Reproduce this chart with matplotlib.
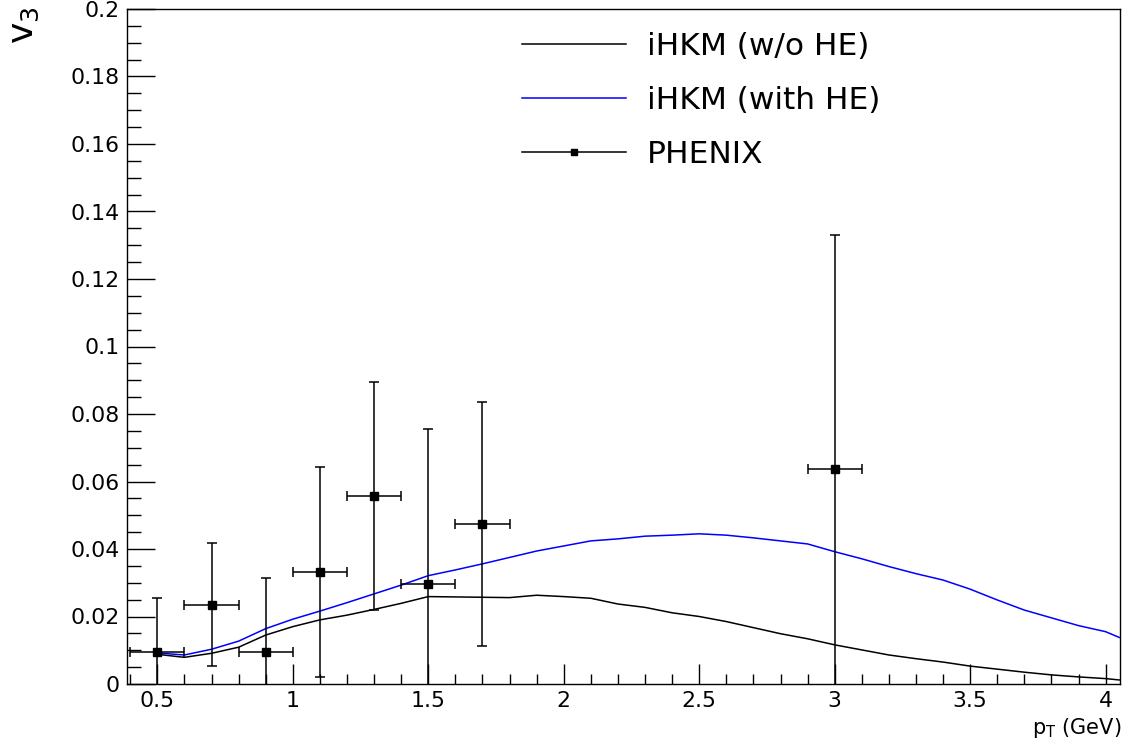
import matplotlib
matplotlib.use("Agg")
import matplotlib.pyplot as plt
from matplotlib.lines import Line2D
from matplotlib.ticker import MultipleLocator, FormatStrFormatter

plt.rcParams['font.family'] = ['DejaVu Sans']
plt.rcParams['mathtext.fontset'] = 'dejavusans'

# ---- data ----
pt_model = [0.5, 0.6, 0.7, 0.8, 0.9, 1.0, 1.1, 1.2, 1.3, 1.4, 1.5, 1.6, 1.7, 1.8, 1.9,
            2.0, 2.1, 2.2, 2.3, 2.4, 2.5, 2.6, 2.7, 2.8, 2.9, 3.0, 3.1, 3.2, 3.3, 3.4,
            3.5, 3.6, 3.7, 3.8, 3.9, 4.0, 4.05]
v3_no_he = [0.0088, 0.0079, 0.0091, 0.0109, 0.0145, 0.0170, 0.0190, 0.0204, 0.0221, 0.0239,
            0.0259, 0.0258, 0.0257, 0.0256, 0.0263, 0.0259, 0.0254, 0.0237, 0.0227, 0.0211,
            0.0200, 0.0185, 0.0167, 0.0149, 0.0134, 0.0116, 0.0101, 0.0086, 0.0075, 0.0065,
            0.0053, 0.0044, 0.0035, 0.0027, 0.0021, 0.0016, 0.0012]
v3_with_he = [0.0092, 0.0086, 0.0103, 0.0127, 0.0164, 0.0192, 0.0216, 0.0241, 0.0267, 0.0293,
              0.0321, 0.0338, 0.0356, 0.0375, 0.0394, 0.0409, 0.0424, 0.0430, 0.0438, 0.0441,
              0.0445, 0.0441, 0.0433, 0.0424, 0.0415, 0.0392, 0.0371, 0.0348, 0.0327, 0.0308,
              0.0281, 0.0249, 0.0219, 0.0196, 0.0173, 0.0155, 0.0138]

pt_phenix = [0.5, 0.7, 0.9, 1.1, 1.3, 1.5, 1.7, 3.0]
v3_phenix = [0.0094, 0.0235, 0.0094, 0.0332, 0.0557, 0.0297, 0.0475, 0.0636]
v3_phenix_err = [0.0162, 0.0183, 0.0219, 0.0310, 0.0338, 0.0459, 0.0361, 0.0694]
pt_phenix_err = [0.1, 0.1, 0.1, 0.1, 0.1, 0.1, 0.1, 0.1]

labels = ['iHKM (w/o HE)', 'iHKM (with HE)', 'PHENIX']

# ---- figure ----
W, H = 1124, 751
fig = plt.figure(figsize=(W / 100, H / 100), dpi=100)
ax = fig.add_axes([126.7 / W, 1 - 684 / H, (1120 - 126.7) / W, (684 - 9) / H])

l1, = ax.plot(pt_model, v3_no_he, color='black', lw=1.1, label=labels[0])
l2, = ax.plot(pt_model, v3_with_he, color='#0000ff', lw=1.1, label=labels[1])
ax.errorbar(pt_phenix, v3_phenix, yerr=v3_phenix_err, xerr=pt_phenix_err,
            fmt='s', color='black', ms=6, elinewidth=1.1, capsize=3.5,
            capthick=1.1, label=labels[2])
h3 = Line2D([], [], color='black', lw=1.1, marker='s', ms=5)

ax.set_xlim(0.387, 4.053)
ax.set_ylim(0, 0.2)

ax.xaxis.set_major_locator(MultipleLocator(0.5))
ax.xaxis.set_minor_locator(MultipleLocator(0.1))
ax.yaxis.set_major_locator(MultipleLocator(0.02))
ax.yaxis.set_minor_locator(MultipleLocator(0.005))
ax.xaxis.set_major_formatter(FormatStrFormatter('%g'))
ax.yaxis.set_major_formatter(FormatStrFormatter('%g'))

ax.tick_params(axis='both', which='both', direction='in', top=False, right=False,
               labelsize=15.8, width=1.0, colors='black')
ax.tick_params(axis='y', which='major', length=20.5, pad=5)
ax.tick_params(axis='y', which='minor', length=10.2)
ax.tick_params(axis='x', which='major', length=14.4, pad=5)
ax.tick_params(axis='x', which='minor', length=7.2)
for s in ax.spines.values():
    s.set_linewidth(1.0)

fig.text(7 / W, 1 - 6 / H, r'v$_3$', rotation=90, ha='left', va='top', fontsize=26)
fig.text(1121 / W, 1 - 716 / H, r'p$_{\mathrm{T}}$ (GeV)', ha='right', va='top',
         fontsize=15)

ax.legend(handles=[l1, l2, h3], labels=labels, loc='upper left',
          bbox_to_anchor=(0.3977, 0.966), frameon=False, fontsize=22.5,
          handlelength=3.33, handletextpad=0.67, labelspacing=0.80,
          borderaxespad=0.0, borderpad=0.0)

fig.savefig('out.png', dpi=100)
